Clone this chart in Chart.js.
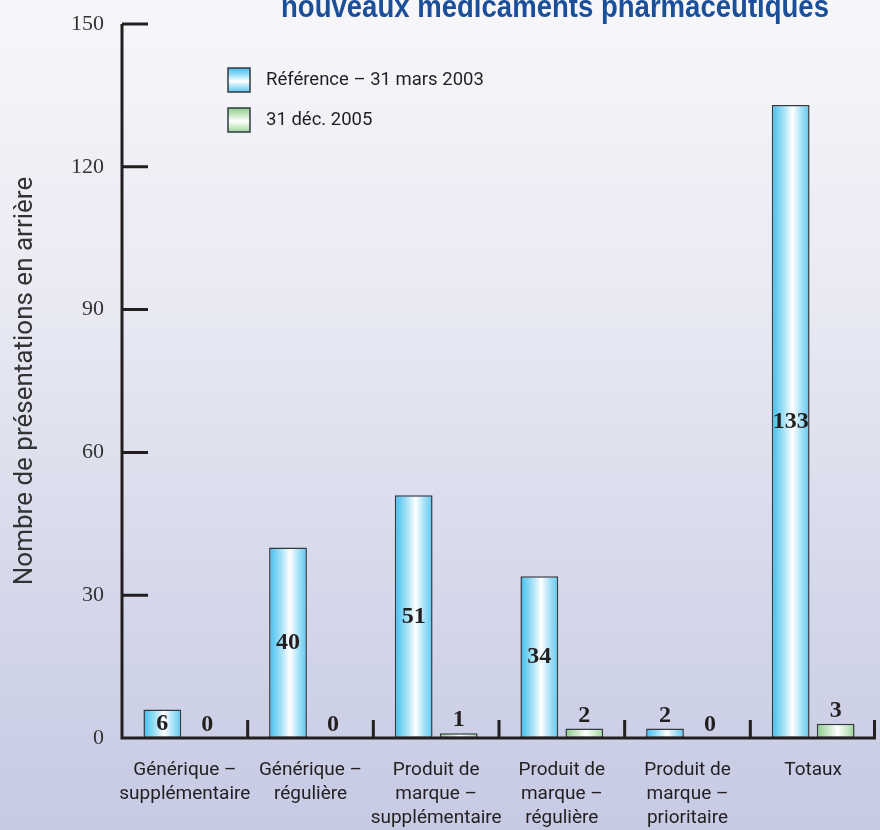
<!DOCTYPE html>
<html>
<head>
<meta charset="utf-8">
<script src="https://cdn.jsdelivr.net/npm/chart.js@4/dist/chart.umd.min.js"></script>
<style>
  html, body { margin: 0; padding: 0; background: #ffffff; }
  #wrap { width: 880px; height: 830px; }
</style>
</head>
<body>
<div id="wrap"><canvas id="c" width="880" height="830"></canvas></div>
<script>
// Categories (multi-line axis labels)
const categories = [
  ["Générique –", "supplémentaire"],
  ["Générique –", "régulière"],
  ["Produit de", "marque –", "supplémentaire"],
  ["Produit de", "marque –", "régulière"],
  ["Produit de", "marque –", "prioritaire"],
  ["Totaux"]
];
const seriesNames = ["Référence – 31 mars 2003", "31 déc. 2005"];
const reference2003 = [6, 40, 51, 34, 2, 133];
const dec2005 = [0, 0, 1, 2, 0, 3];
const yTicks = [0, 30, 60, 90, 120, 150];
const titleText = "nouveaux médicaments pharmaceutiques";
const yTitle = "Nombre de présentations en arrière";

const SANS = "'Roboto', 'Liberation Sans', sans-serif";
const SERIF = "'Liberation Serif', 'DejaVu Serif', serif";
const CAT_PCT = 0.716;
const BAR_PCT = 0.84;

const palettes = [
  { edgeL: '#3dbfee', mid1: '#9fdff6', edgeR: '#5cc9f0' },
  { edgeL: '#8ccb8a', mid1: '#c9e8c6', edgeR: '#9ad39a' }
];

function fillGradient(ctx2d, x0, y0, x1, y1, p) {
  const g = ctx2d.createLinearGradient(x0, y0, x1, y1);
  g.addColorStop(0, p.edgeL);
  g.addColorStop(0.3, p.mid1);
  g.addColorStop(0.55, '#ffffff');
  g.addColorStop(0.8, p.mid1);
  g.addColorStop(1, p.edgeR);
  return g;
}

// Horizontal gradient per bar, positioned from the category scale
function barFill(ctx) {
  const chart = ctx.chart;
  const xs = chart.scales.x;
  const p = palettes[ctx.datasetIndex];
  if (!xs || ctx.type !== 'data' || !chart.chartArea) return p.edgeL;
  const catW = (xs.right - xs.left) / categories.length;
  const slot = catW * CAT_PCT / 2;
  const w = slot * BAR_PCT;
  const cx = xs.getPixelForValue(ctx.dataIndex) + (ctx.datasetIndex === 0 ? -slot / 2 : slot / 2);
  return fillGradient(chart.ctx, cx - w / 2, 0, cx + w / 2, 0, p);
}

const decor = {
  id: 'decor',
  beforeDraw(chart) {
    const c = chart.ctx;
    const g = c.createLinearGradient(0, 0, 0, chart.height);
    g.addColorStop(0, '#f7f7fa');
    g.addColorStop(0.35, '#e9eaf3');
    g.addColorStop(1, '#c6cae3');
    c.save();
    c.fillStyle = g;
    c.fillRect(0, 0, chart.width, chart.height);
    c.restore();
  },
  afterDatasetsDraw(chart) {
    const c = chart.ctx;
    const xs = chart.scales.x, ys = chart.scales.y;
    const area = chart.chartArea;
    c.save();
    c.strokeStyle = '#231f20';
    c.lineWidth = 3;
    c.lineCap = 'butt';
    // axis lines
    c.beginPath();
    c.moveTo(area.left, area.top);
    c.lineTo(area.left, area.bottom + 1.5);
    c.moveTo(area.left - 1.5, area.bottom);
    c.lineTo(area.right, area.bottom);
    // y tick marks (inward)
    yTicks.forEach(v => {
      if (v === 0) return;
      const y = ys.getPixelForValue(v);
      c.moveTo(area.left, y);
      c.lineTo(area.left + 26, y);
    });
    // x tick marks at category boundaries (inward)
    const catW = (xs.right - xs.left) / categories.length;
    for (let i = 1; i <= categories.length; i++) {
      const x = xs.getPixelForValue(i - 1) + catW / 2 - (i === categories.length ? 1.5 : 0);
      c.moveTo(x, area.bottom);
      c.lineTo(x, area.bottom - 18);
    }
    c.stroke();

    // value labels
    c.fillStyle = '#231f20';
    c.font = "bold 24px " + SERIF;
    c.textAlign = 'center';
    c.textBaseline = 'middle';
    chart.data.datasets.forEach((ds, di) => {
      const meta = chart.getDatasetMeta(di);
      meta.data.forEach((el, i) => {
        const v = ds.data[i];
        const { x, y, base } = el.getProps(['x', 'y', 'base'], true);
        let ty;
        if (di === 0 && v >= 6) ty = (y + base) / 2;
        else ty = y - 13;
        c.fillText(String(v), x, ty);
      });
    });
    c.restore();
  },
  afterDraw(chart) {
    const c = chart.ctx;
    c.save();
    // heading line
    c.fillStyle = '#1b4f99';
    c.font = "bold 32px 'Liberation Sans', sans-serif";
    const tw = c.measureText(titleText).width;
    c.translate(555, 17);
    c.scale(548 / tw, 1);
    c.textAlign = 'center';
    c.textBaseline = 'alphabetic';
    c.fillText(titleText, 0, 0);
    c.restore();

    // legend
    c.save();
    chart.data.datasets.forEach((ds, i) => {
      const bx = 228, by = 68 + 40 * i, bw = 22, bh = 24;
      c.fillStyle = fillGradient(c, 0, by, 0, by + bh, palettes[i]);
      c.fillRect(bx, by, bw, bh);
      c.strokeStyle = '#333a40';
      c.lineWidth = 1.5;
      c.strokeRect(bx, by, bw, bh);
      c.fillStyle = '#231f20';
      c.font = "18.5px " + SANS;
      c.textAlign = 'left';
      c.textBaseline = 'middle';
      c.fillText(ds.label, 266, by + bh / 2);
    });
    c.restore();
  }
};

const barStyle = {
  backgroundColor: barFill,
  borderColor: '#333a40',
  borderWidth: (ctx) => (ctx.raw === 0 ? 0 : 1.5),
  borderSkipped: false
};

new Chart(document.getElementById('c'), {
  type: 'bar',
  data: {
    labels: categories,
    datasets: [
      Object.assign({ label: seriesNames[0], data: reference2003 }, barStyle),
      Object.assign({ label: seriesNames[1], data: dec2005 }, barStyle)
    ]
  },
  options: {
    responsive: false,
    devicePixelRatio: 1,
    animation: false,
    categoryPercentage: CAT_PCT,
    barPercentage: BAR_PCT,
    layout: { padding: { top: 24, right: 4, left: 0, bottom: 0 } },
    plugins: {
      colors: { enabled: false },
      legend: { display: false },
      tooltip: { enabled: false }
    },
    scales: {
      y: {
        min: 0,
        max: 150,
        afterBuildTicks: (s) => { s.ticks = yTicks.map(v => ({ value: v })); },
        afterFit: (s) => { s.width = 122; s.paddingTop = 0; s.paddingBottom = 0; },
        grid: { display: false, drawTicks: false },
        border: { display: false },
        ticks: { padding: 18, color: '#333333', font: { family: SERIF, size: 22 } },
        title: {
          display: true,
          text: yTitle,
          color: '#333333',
          font: { family: SANS, size: 26 },
          padding: { top: 10, bottom: 0 }
        }
      },
      x: {
        afterFit: (s) => { s.height = 92; },
        grid: { display: false, drawTicks: false },
        border: { display: false },
        ticks: {
          padding: 20,
          color: '#231f20',
          maxRotation: 0,
          autoSkip: false,
          font: { family: SANS, size: 19, lineHeight: 1.26 }
        }
      }
    }
  },
  plugins: [decor]
});
</script>
</body>
</html>
